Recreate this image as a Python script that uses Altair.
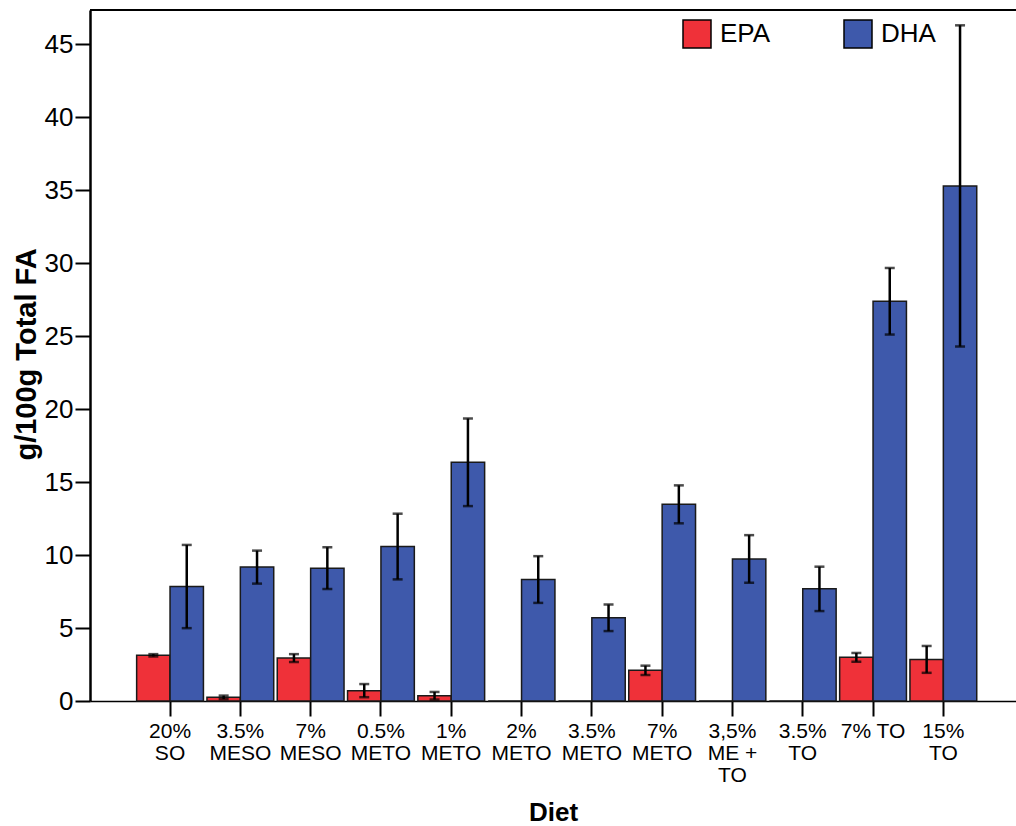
import altair as alt
import pandas as pd

diets = ["20%|SO", "3.5%|MESO", "7%|MESO", "0.5%|METO", "1%|METO", "2%|METO",
         "3.5%|METO", "7%|METO", "3,5%|ME +|TO", "3.5%|TO", "7% TO", "15%|TO"]
epa = [3.13, 0.25, 2.94, 0.71, 0.36, 0.0, 0.0, 2.10, 0.0, 0.0, 2.99, 2.85]
epa_err = [0.08, 0.12, 0.27, 0.45, 0.26, 0.0, 0.0, 0.32, 0.0, 0.0, 0.30, 0.92]
dha = [7.84, 9.17, 9.10, 10.58, 16.35, 8.32, 5.70, 13.47, 9.73, 7.68, 27.38, 35.28]
dha_err = [2.85, 1.13, 1.43, 2.25, 3.00, 1.60, 0.91, 1.30, 1.63, 1.52, 2.28, 11.0]
series = ["EPA", "DHA"]
colors = ["#EF3139", "#3E59AB"]

rows = []
for i, d in enumerate(diets):
    for s, vals, errs in (("EPA", epa, epa_err), ("DHA", dha, dha_err)):
        v, e = vals[i], errs[i]
        rows.append({"diet": d, "fa": s, "value": v, "err": e, "lo": v - e, "hi": v + e})
df = pd.DataFrame(rows)

W, H = 926, 691
FONT = "Liberation Sans"
ytitle = "g/100g Total FA"

xenc = alt.X("diet:N", sort=diets,
             scale=alt.Scale(paddingInner=0.05, paddingOuter=0.611, align=0.543),
             axis=alt.Axis(title="Diet", labelAngle=0, labelExpr="split(datum.label, '|')",
                           labelFontSize=21, labelLineHeight=22, labelFont=FONT, labelColor="black",
                           labelPadding=4, labelLimit=200, tickSize=15, tickWidth=2, tickColor="black",
                           domainColor="black", domainWidth=1.5,
                           titleFontSize=26, titleFont=FONT, titleFontWeight="bold", titleColor="black",
                           titleX=463, titleY=119, titleBaseline="alphabetic", titleAnchor="middle"))
xoff = alt.XOffset("fa:N", sort=series, scale=alt.Scale(domain=series, paddingInner=0, paddingOuter=0))
yscale = alt.Scale(domain=[0, 47.33], nice=False, zero=True)
yaxis = alt.Axis(values=list(range(0, 50, 5)), labelFontSize=26, labelFont=FONT, labelColor="black",
                 labelPadding=2, tickSize=15, tickWidth=2, tickColor="black", grid=False,
                 domainColor="black", domainWidth=2.5,
                 titleFontSize=29, titleFont=FONT, titleFontWeight="bold", titleColor="black",
                 titleAngle=-90, titleX=-64, titleY=344, titleBaseline="middle", titleAnchor="middle")

base = alt.Chart(df).encode(x=xenc, xOffset=xoff)

bars = base.mark_bar(stroke="#1a1a1a", strokeWidth=1.5).encode(
    y=alt.Y("value:Q", scale=yscale, axis=yaxis, title=ytitle),
    color=alt.Color("fa:N", scale=alt.Scale(domain=series, range=colors),
                    legend=alt.Legend(orient="none", legendX=592, legendY=9, direction="horizontal",
                                      title=None, symbolType="square", symbolSize=784,
                                      symbolStrokeColor="black", symbolStrokeWidth=1.5,
                                      symbolOpacity=1, labelFontSize=26, labelFont=FONT,
                                      labelColor="black", labelOffset=8, columnPadding=70,
                                      padding=0)),
)

err = base.transform_filter("datum.err > 0")
rules = err.mark_rule(color="black", strokeWidth=2.5).encode(
    y=alt.Y("lo:Q", scale=yscale, axis=yaxis, title=ytitle), y2="hi:Q")
caps_hi = err.mark_tick(color="black", size=10, thickness=2.5, orient="horizontal").encode(
    y=alt.Y("hi:Q", scale=yscale, axis=yaxis, title=ytitle))
caps_lo = err.mark_tick(color="black", size=10, thickness=2.5, orient="horizontal").encode(
    y=alt.Y("lo:Q", scale=yscale, axis=yaxis, title=ytitle))

top = alt.Chart(alt.Data(values=[{}])).mark_rule(color="black", strokeWidth=2).encode(
    x=alt.value(0), x2=alt.value(W), y=alt.value(0))

chart = alt.layer(bars, rules, caps_hi, caps_lo, top).properties(
    width=W, height=H,
    autosize=alt.AutoSizeParams(type="none"),
    padding={"left": 90, "top": 10, "right": 0, "bottom": 125},
).configure_view(stroke=None).configure(background="white")

chart.save("out.html", embed_options={"renderer": "svg", "actions": False})
